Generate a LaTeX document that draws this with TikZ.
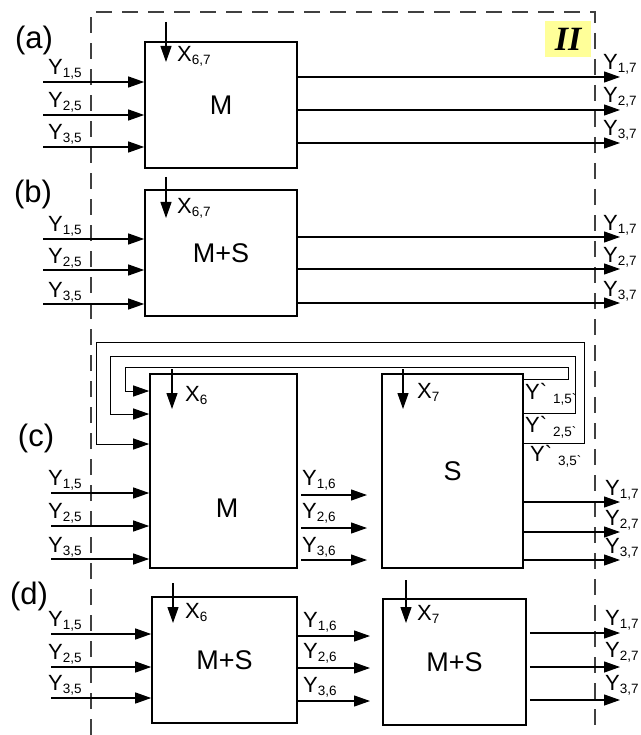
\documentclass[tikz,border=0pt]{standalone}
\usepackage{fontspec}
\setmainfont{Liberation Sans}
\newfontfamily\romfont{Liberation Serif}
\usepackage{tikz}
\usetikzlibrary{arrows.meta,positioning}
\definecolor{tagyellow}{RGB}{255,255,153}
\tikzstyle{block} = [draw, rectangle, line width=1.6pt, inner sep=0pt, font=\fontsize{27}{27}\selectfont]
\tikzstyle{input} = [coordinate]
\tikzstyle{output} = [coordinate]
\tikzstyle{lbl} = [inner sep=0pt, anchor=base west, font=\fontsize{22}{22}\selectfont]
\tikzstyle{tag} = [inner sep=0pt, font=\fontsize{31}{31}\selectfont]
\tikzstyle{wire} = [->, line width=1.2pt]
\tikzstyle{fback} = [->, line width=1pt]
\tikzstyle{frame} = [line width=1.2pt, dash pattern=on 16pt off 10pt, black!75]
\newcommand{\yv}[1]{Y\raisebox{-3pt}{\fontsize{13.5}{13.5}\selectfont #1}}
\newcommand{\xv}[1]{X\raisebox{-3pt}{\fontsize{13.5}{13.5}\selectfont #1}}
\newcommand{\yb}[1]{Y\textasciigrave\hspace{6pt}\raisebox{-4pt}{\fontsize{13.5}{13.5}\selectfont #1\textasciigrave}}

\begin{document}
\begin{tikzpicture}[auto, x=1pt, y=-1pt, >={Triangle[length=16pt,width=11pt]}]
  \useasboundingbox (0,0) rectangle (640,735);
  \draw [frame] (91,735) -- (91,12) -- (595,12) -- (595,735);
  \node [fill=tagyellow, minimum width=46pt, minimum height=36pt, inner sep=0pt] (II) at (568,39) {\romfont\fontsize{34}{34}\selectfont\bfseries\itshape II};

  % (a)
  \node [tag] (ta) at (34,40) {(a)};
  \node [block, minimum width=152pt, minimum height=126pt] (Ma) at (221,105) {M};
  \node [input] (xa) at (166,22) {};
  \draw [wire] (xa) -- ++(0,40);
  \node [lbl] (xla) at (177,62) {\xv{6,7}};
  \node [input] (ia1) at (43,82) {};
  \node [input] (ia2) at (43,115) {};
  \node [input] (ia3) at (43,147) {};
  \node [output] (oa1) at (620,77) {};
  \node [output] (oa2) at (620,110) {};
  \node [output] (oa3) at (620,143) {};
  \draw [wire] (ia1) -- (ia1 -| Ma.west);
  \draw [wire] (ia2) -- (ia2 -| Ma.west);
  \draw [wire] (ia3) -- (ia3 -| Ma.west);
  \draw [wire] (oa1 -| Ma.east) -- (oa1);
  \draw [wire] (oa2 -| Ma.east) -- (oa2);
  \draw [wire] (oa3 -| Ma.east) -- (oa3);
  \node [lbl] (lia1) at (48,75) {\yv{1,5}};
  \node [lbl] (lia2) at (48,108) {\yv{2,5}};
  \node [lbl] (lia3) at (48,140) {\yv{3,5}};
  \node [lbl] (loa1) at (603,70) {\yv{1,7}};
  \node [lbl] (loa2) at (603,103) {\yv{2,7}};
  \node [lbl] (loa3) at (603,136) {\yv{3,7}};

  % (b)
  \node [tag] (tb) at (33,194) {(b)};
  \node [block, minimum width=152pt, minimum height=126pt] (Mb) at (221,253) {M+S};
  \node [input] (xb) at (166,177) {};
  \draw [wire] (xb) -- ++(0,41);
  \node [lbl] (xlb) at (177,214) {\xv{6,7}};
  \node [input] (ib1) at (43,239) {};
  \node [input] (ib2) at (43,270) {};
  \node [input] (ib3) at (43,304) {};
  \node [output] (ob1) at (620,237) {};
  \node [output] (ob2) at (620,269) {};
  \node [output] (ob3) at (620,303) {};
  \draw [wire] (ib1) -- (ib1 -| Mb.west);
  \draw [wire] (ib2) -- (ib2 -| Mb.west);
  \draw [wire] (ib3) -- (ib3 -| Mb.west);
  \draw [wire] (ob1 -| Mb.east) -- (ob1);
  \draw [wire] (ob2 -| Mb.east) -- (ob2);
  \draw [wire] (ob3 -| Mb.east) -- (ob3);
  \node [lbl] (lib1) at (48,231) {\yv{1,5}};
  \node [lbl] (lib2) at (48,263) {\yv{2,5}};
  \node [lbl] (lib3) at (48,297) {\yv{3,5}};
  \node [lbl] (lob1) at (603,230) {\yv{1,7}};
  \node [lbl] (lob2) at (603,262) {\yv{2,7}};
  \node [lbl] (lob3) at (603,296) {\yv{3,7}};

  % (c)
  \node [tag] (tc) at (36,438) {(c)};
  \node [block, minimum width=147pt, minimum height=194pt] (Mc) at (223.5,471) {};
  \node [font=\fontsize{27}{27}\selectfont, inner sep=0pt] (Mct) at (227,508) {M};
  \node [block, minimum width=141pt, minimum height=194pt] (Sc) at (452.5,471) {S};
  \node [input] (xc6) at (172,369) {};
  \node [input] (xc7) at (403,369) {};
  \draw [wire] (xc6) -- ++(0,40);
  \draw [wire] (xc7) -- ++(0,40);
  \node [lbl] (xlc6) at (185,401) {\xv{6}};
  \node [lbl] (xlc7) at (417,398) {\xv{7}};
  \draw [fback] (Sc.north east) ++(0,6) -| (568,367) -| (125,391) -- (Mc.west |- 125,391);
  \draw [fback] (Sc.north east) ++(0,40) -| (575,356) -| (110,414) -- (Mc.west |- 110,414);
  \draw [fback] (Sc.north east) ++(0,70) -| (584,342) -| (96,444) -- (Mc.west |- 96,444);
  \node [lbl] (lfc1) at (525,399) {\yb{1,5}};
  \node [lbl] (lfc2) at (525,432) {\yb{2,5}};
  \node [lbl] (lfc3) at (530,461) {\yb{3,5}};
  \node [input] (ic1) at (51,493) {};
  \node [input] (ic2) at (51,526) {};
  \node [input] (ic3) at (51,559) {};
  \draw [wire] (ic1) -- (ic1 -| Mc.west);
  \draw [wire] (ic2) -- (ic2 -| Mc.west);
  \draw [wire] (ic3) -- (ic3 -| Mc.west);
  \node [lbl] (lic1) at (48,485) {\yv{1,5}};
  \node [lbl] (lic2) at (48,518) {\yv{2,5}};
  \node [lbl] (lic3) at (48,552) {\yv{3,5}};
  \node [input] (mc1) at (301,495) {};
  \node [input] (mc2) at (301,528) {};
  \node [input] (mc3) at (301,560) {};
  \draw [wire] (mc1) -- ++(66,0);
  \draw [wire] (mc2) -- ++(66,0);
  \draw [wire] (mc3) -- ++(66,0);
  \node [lbl] (lmc1) at (302,485) {\yv{1,6}};
  \node [lbl] (lmc2) at (302,518) {\yv{2,6}};
  \node [lbl] (lmc3) at (302,552) {\yv{3,6}};
  \node [output] (oc1) at (620,502) {};
  \node [output] (oc2) at (620,532) {};
  \node [output] (oc3) at (620,560) {};
  \draw [wire] (oc1 -| Sc.east) -- (oc1);
  \draw [wire] (oc2 -| Sc.east) -- (oc2);
  \draw [wire] (oc3 -| Sc.east) -- (oc3);
  \node [lbl] (loc1) at (605,495) {\yv{1,7}};
  \node [lbl] (loc2) at (605,525) {\yv{2,7}};
  \node [lbl] (loc3) at (605,553) {\yv{3,7}};

  % (d)
  \node [tag] (td) at (29,596) {(d)};
  \node [block, minimum width=145pt, minimum height=126pt] (Md) at (224.5,660) {M+S};
  \node [block, minimum width=143pt, minimum height=126pt] (Sd) at (454.5,662) {M+S};
  \node [input] (xd6) at (173,583) {};
  \node [input] (xd7) at (406,580) {};
  \draw [wire] (xd6) -- ++(0,40);
  \draw [wire] (xd7) -- ++(0,43);
  \node [lbl] (xld6) at (185,618) {\xv{6}};
  \node [lbl] (xld7) at (417,620) {\xv{7}};
  \node [input] (id1) at (51,634) {};
  \node [input] (id2) at (51,667) {};
  \node [input] (id3) at (51,698) {};
  \draw [wire] (id1) -- (id1 -| Md.west);
  \draw [wire] (id2) -- (id2 -| Md.west);
  \draw [wire] (id3) -- (id3 -| Md.west);
  \node [lbl] (lid1) at (48,626) {\yv{1,5}};
  \node [lbl] (lid2) at (48,659) {\yv{2,5}};
  \node [lbl] (lid3) at (48,690) {\yv{3,5}};
  \node [output] (md1) at (370,636) {};
  \node [output] (md2) at (370,668) {};
  \node [output] (md3) at (370,701) {};
  \draw [wire] (md1 -| Md.east) -- (md1);
  \draw [wire] (md2 -| Md.east) -- (md2);
  \draw [wire] (md3 -| Md.east) -- (md3);
  \node [lbl] (lmd1) at (303,627) {\yv{1,6}};
  \node [lbl] (lmd2) at (303,658) {\yv{2,6}};
  \node [lbl] (lmd3) at (303,692) {\yv{3,6}};
  \node [output] (od1) at (620,633) {};
  \node [output] (od2) at (620,667) {};
  \node [output] (od3) at (620,700) {};
  \draw [wire] ([xshift=3pt]od1 -| Sd.east) -- (od1);
  \draw [wire] ([xshift=3pt]od2 -| Sd.east) -- (od2);
  \draw [wire] ([xshift=3pt]od3 -| Sd.east) -- (od3);
  \node [lbl] (lod1) at (605,625) {\yv{1,7}};
  \node [lbl] (lod2) at (605,657) {\yv{2,7}};
  \node [lbl] (lod3) at (605,690) {\yv{3,7}};
\end{tikzpicture}
\end{document}
